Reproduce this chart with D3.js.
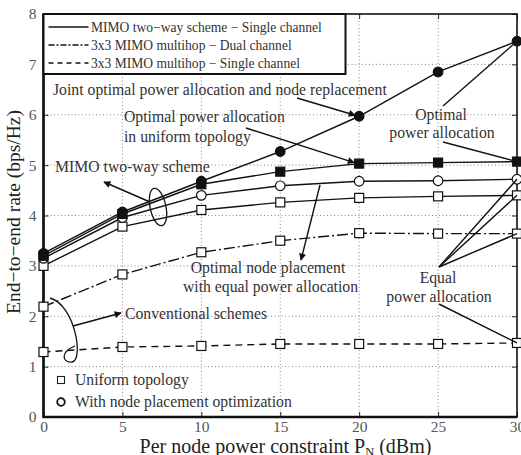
<!DOCTYPE html>
<html>
<head>
<meta charset="utf-8">
<script src="https://cdn.jsdelivr.net/npm/d3@7"></script>
<style>
  body { margin: 0; background: #fff; }
</style>
</head>
<body>
<svg id="chart"></svg>
<script>
// data
var powerDbm = [0, 5, 10, 15, 20, 25, 30];
var jointOpt = [3.25, 4.07, 4.68, 5.27, 5.97, 6.85, 7.46];        // filled circles
var optPowerUniform = [3.2, 4.03, 4.62, 4.87, 5.03, 5.05, 5.07];  // filled squares
var nodePlaceEqual = [3.15, 3.96, 4.4, 4.59, 4.68, 4.69, 4.72];   // open circles
var uniformEqual = [3.0, 3.78, 4.11, 4.26, 4.35, 4.38, 4.4];      // open squares
var multihopDual = [2.19, 2.83, 3.27, 3.5, 3.65, 3.64, 3.64];
var multihopSingle = [1.29, 1.39, 1.41, 1.45, 1.45, 1.45, 1.47];
var xTicks = [0, 5, 10, 15, 20, 25, 30];
var yTicks = [0, 1, 2, 3, 4, 5, 6, 7, 8];
var legendLabels = ["MIMO two\u2212way scheme \u2212 Single channel",
                    "3x3 MIMO multihop \u2212 Dual channel",
                    "3x3 MIMO multihop \u2212 Single channel"];

var W = 521, H = 455;
var m = {left: 43.5, top: 14, right: 4, bottom: 38};
var pw = W - m.left - m.right, ph = H - m.top - m.bottom;
var FONT = "'Liberation Serif'";

var svg = d3.select("#chart").attr("width", W).attr("height", H);
var g = svg.append("g").attr("transform", "translate(" + m.left + "," + m.top + ")");

var x = d3.scaleLinear().domain([0, 30]).range([0, pw]);
var y = d3.scaleLinear().domain([0, 8]).range([ph, 0]);

// scale a text's font so it spans a given width (matches the scanned figure)
function fitSize(t, base, width) {
    var probe = svg.append("text").style("font-family", FONT).attr("font-size", base + "px").text(t);
    var w = probe.node().getComputedTextLength();
    probe.remove();
    return base * width / w;
}
var legendSize = fitSize(legendLabels[0], 14, 231);
var noteSize = fitSize("Joint optimal power allocation and node replacement", 15, 334);
var markSize = fitSize("With node placement optimization", 15, 217);

// arrow head
svg.append("defs").append("marker")
    .attr("id", "ah")
    .attr("viewBox", "0 0 10 10")
    .attr("refX", 9).attr("refY", 5)
    .attr("markerWidth", 9).attr("markerHeight", 7)
    .attr("markerUnits", "userSpaceOnUse")
    .attr("orient", "auto")
    .append("path").attr("d", "M0,0L10,5L0,10z").attr("fill", "#111");

// grid
g.append("g").selectAll("line").data(xTicks.slice(1, -1)).enter().append("line")
    .attr("x1", function(d) { return x(d); }).attr("x2", function(d) { return x(d); })
    .attr("y1", 0).attr("y2", ph)
    .attr("stroke", "#888").attr("stroke-width", 1).attr("stroke-dasharray", "1,2.5");
g.append("g").selectAll("line").data(yTicks.slice(1, -1)).enter().append("line")
    .attr("y1", function(d) { return y(d); }).attr("y2", function(d) { return y(d); })
    .attr("x1", 0).attr("x2", pw)
    .attr("stroke", "#888").attr("stroke-width", 1).attr("stroke-dasharray", "1,2.5");

// axes
var xAxis = g.append("g").attr("transform", "translate(0," + ph + ")")
    .call(d3.axisBottom(x).tickValues(xTicks).tickSize(-5).tickPadding(4));
var yAxis = g.append("g")
    .call(d3.axisLeft(y).tickValues(yTicks).tickSize(-5).tickPadding(7));
g.append("g").call(d3.axisTop(x).tickValues(xTicks).tickSize(-5).tickFormat(""));
g.append("g").attr("transform", "translate(" + pw + ",0)")
    .call(d3.axisRight(y).tickValues(yTicks).tickSize(-5).tickFormat(""));
g.selectAll(".domain").remove();
g.selectAll(".tick line").attr("stroke", "#222");
[xAxis, yAxis].forEach(function(a) {
    a.selectAll("text").style("font-family", FONT).attr("font-size", "15.5px").attr("fill", "#555");
});

// frame
g.append("rect").attr("width", pw).attr("height", ph)
    .attr("fill", "none").attr("stroke", "#111").attr("stroke-width", 1.6);
g.append("path").attr("d", "M0,0V" + ph + "H" + pw)
    .attr("fill", "none").attr("stroke", "#111").attr("stroke-width", 2.6);

// curves
var line = d3.line()
    .x(function(d, i) { return x(powerDbm[i]); })
    .y(function(d) { return y(d); });

var series = [
    {v: multihopSingle, dash: "7,5", mark: "osq"},
    {v: multihopDual, dash: "11,3,2,3", mark: "osq"},
    {v: uniformEqual, dash: null, mark: "osq"},
    {v: nodePlaceEqual, dash: null, mark: "oci"},
    {v: optPowerUniform, dash: null, mark: "fsq"},
    {v: jointOpt, dash: null, mark: "fci"}
];

series.forEach(function(s) {
    g.append("path").datum(s.v).attr("d", line)
        .attr("fill", "none").attr("stroke", "#111").attr("stroke-width", 1.4)
        .attr("stroke-dasharray", s.dash);
    var pts = g.append("g").selectAll("g").data(s.v).enter().append("g")
        .attr("transform", function(d, i) { return "translate(" + x(powerDbm[i]) + "," + y(d) + ")"; });
    var fill = s.mark.charAt(0) === "f" ? "#111" : "#fff";
    if (s.mark.slice(1) === "sq") {
        pts.append("rect").attr("x", -4.5).attr("y", -4.5).attr("width", 9).attr("height", 9)
            .attr("fill", fill).attr("stroke", "#111").attr("stroke-width", 1.2);
    } else {
        pts.append("circle").attr("r", 4.8)
            .attr("fill", fill).attr("stroke", "#111").attr("stroke-width", 1.2);
    }
});

// legend box
var lg = g.append("g");
lg.append("rect").attr("x", 0).attr("y", 0).attr("width", 302).attr("height", 60)
    .attr("fill", "#fff").attr("stroke", "#111").attr("stroke-width", 2);
var lgDash = [null, "6,2,2,2", "5,4"];
legendLabels.forEach(function(t, i) {
    var yy = 13 + i * 18;
    lg.append("line").attr("x1", 5).attr("x2", 45).attr("y1", yy).attr("y2", yy)
        .attr("stroke", "#111").attr("stroke-width", 1.4).attr("stroke-dasharray", lgDash[i]);
    lg.append("text").attr("x", 47.5).attr("y", yy + 4.5).attr("font-size", legendSize + "px")
        .style("font-family", FONT).attr("fill", "#333").text(t);
});

// marker legend
var ml = g.append("g").attr("transform", "translate(" + 17.5 + "," + (ph - 37) + ")");
ml.append("rect").attr("x", -3.5).attr("y", -3.5).attr("width", 7).attr("height", 7)
    .attr("fill", "#fff").attr("stroke", "#222").attr("stroke-width", 1.1);
ml.append("text").attr("x", 14).attr("y", 5).attr("font-size", markSize + "px").attr("fill", "#333")
    .style("font-family", FONT).text("Uniform topology");
ml.append("circle").attr("cy", 22).attr("r", 3.8)
    .attr("fill", "#fff").attr("stroke", "#111").attr("stroke-width", 1.8);
ml.append("text").attr("x", 14).attr("y", 27).attr("font-size", markSize + "px").attr("fill", "#333")
    .style("font-family", FONT).text("With node placement optimization");

// annotations (pixel positions in plot space)
function txt(t, xx, yy, anchor) {
    g.append("text").attr("x", xx - m.left).attr("y", yy - m.top)
        .attr("font-size", noteSize + "px").attr("fill", "#333").style("font-family", FONT)
        .attr("text-anchor", anchor || "start").text(t);
}
function seg(x1, y1, x2, y2, arrow) {
    g.append("line").attr("x1", x1 - m.left).attr("y1", y1 - m.top)
        .attr("x2", x2 - m.left).attr("y2", y2 - m.top)
        .attr("stroke", "#111").attr("stroke-width", 1.4)
        .attr("marker-end", arrow ? "url(#ah)" : null);
}
function px(v) { return x(v) + m.left; }
function py(v) { return y(v) + m.top; }

txt("Joint optimal power allocation and node replacement", 53, 95);
seg(297, 98, px(20) - 4, py(jointOpt[4]) - 1, true);

txt("Optimal power allocation", 124, 122);
txt("in uniform topology", 124, 142);
seg(246, 128, px(20) - 5, py(optPowerUniform[4]) - 1, true);

txt("MIMO two-way scheme", 55, 172);
seg(150, 202, 104, 182, true);
g.append("ellipse").attr("cx", 158 - m.left).attr("cy", 207 - m.top)
    .attr("rx", 8).attr("ry", 19)
    .attr("transform", "rotate(-12," + (158 - m.left) + "," + (207 - m.top) + ")")
    .attr("fill", "none").attr("stroke", "#111").attr("stroke-width", 1.3);

txt("Optimal node placement", 268, 273, "middle");
txt("with equal power allocation", 270.5, 292, "middle");
seg(320, 185, 301, 260, true);

txt("Conventional schemes", 125, 319);
seg(73, 326, 121, 313, true);
g.append("path")
    .attr("d", "M" + (50 - m.left) + "," + (298 - m.top) +
        "C" + (75 - m.left) + "," + (305 - m.top) + " " + (84 - m.left) + "," + (360 - m.top) +
        " " + (72 - m.left) + "," + (362 - m.top) +
        "C" + (62 - m.left) + "," + (363 - m.top) + " " + (60 - m.left) + "," + (352 - m.top) +
        " " + (75 - m.left) + "," + (346 - m.top))
    .attr("fill", "none").attr("stroke", "#111").attr("stroke-width", 1.3);

txt("Optimal", 441, 120, "middle");
txt("power allocation", 442, 138, "middle");
seg(443, 106, px(30), py(jointOpt[6]), false);
seg(443, 142, px(30), py(optPowerUniform[6]), false);

txt("Equal", 438, 283, "middle");
txt("power allocation", 439, 302, "middle");
seg(439, 267, px(30), py(nodePlaceEqual[6]), false);
seg(439, 267, px(30), py(uniformEqual[6]), false);
seg(439, 267, px(30), py(multihopDual[6]), false);
seg(439, 304, px(30), py(multihopSingle[6]), false);

// axis titles
var xt = svg.append("text").attr("x", 285.5).attr("y", 452.5).style("font-family", FONT)
    .attr("text-anchor", "middle").attr("font-size", "20px").attr("fill", "#222");
xt.append("tspan").text("Per node power constraint P");
xt.append("tspan").attr("font-size", "12.5px").attr("dy", 3.5).text("N");
xt.append("tspan").attr("dy", -3.5).text(" (dBm)");

svg.append("text").attr("transform", "translate(20,212) rotate(-90)").style("font-family", FONT)
    .attr("text-anchor", "middle").attr("font-size", "19.5px").attr("fill", "#222")
    .text("End\u2212to\u2212end rate (bps/Hz)");
</script>
</body>
</html>
